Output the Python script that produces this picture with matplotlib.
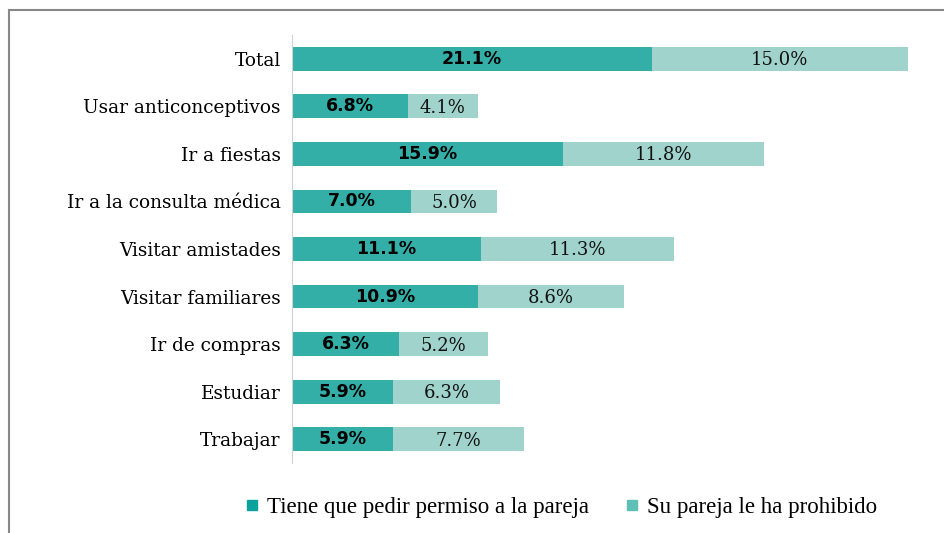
import matplotlib.pyplot as plt
from matplotlib.lines import Line2D

# categorias (de arriba hacia abajo)
categorias = ['Total', 'Usar anticonceptivos', 'Ir a fiestas', 'Ir a la consulta médica',
              'Visitar amistades', 'Visitar familiares', 'Ir de compras', 'Estudiar', 'Trabajar']
permiso = [21.1, 6.8, 15.9, 7.0, 11.1, 10.9, 6.3, 5.9, 5.9]
prohibido = [15.0, 4.1, 11.8, 5.0, 11.3, 8.6, 5.2, 6.3, 7.7]
series = ['Tiene que pedir permiso a la pareja', 'Su pareja le ha prohibido']

c_osc = '#33afa8'
c_cla = '#9fd3cc'

fig = plt.figure(figsize=(9.44, 5.33), dpi=100)
ax = fig.add_axes([0.3093, 0.1313, 0.69, 0.803])

y = list(range(len(categorias)))
ax.barh(y, permiso, height=0.5, color=c_osc)
ax.barh(y, prohibido, left=permiso, height=0.5, color=c_cla)

for i in y:
    a, b = permiso[i], prohibido[i]
    ax.text(a / 2, i, f'{a:.1f}%', ha='center', va='center', fontsize=12.5,
            fontweight='bold', family='DejaVu Sans', color='black')
    ax.text(a + b / 2, i + 0.03, f'{b:.1f}%', ha='center', va='center', fontsize=13,
            family='DejaVu Serif', color='#111111')

ax.set_ylim(len(categorias) - 0.5, -0.5)
ax.set_xlim(0, 38.2)
ax.set_yticks(y)
ax.set_yticklabels(categorias, family='DejaVu Serif', fontsize=13.3)
ax.tick_params(axis='y', length=0, pad=8)
ax.set_xticks([])
for s in ['top', 'right', 'bottom']:
    ax.spines[s].set_visible(False)
ax.spines['left'].set_color('#d0d0d0')

# leyenda
h = [Line2D([], [], marker='s', linestyle='', color='#0aa39b', markersize=6.5),
     Line2D([], [], marker='s', linestyle='', color='#5ebfb6', markersize=6.5)]
fig.legend(h, series, loc='center', bbox_to_anchor=(0.591, 0.047), ncol=2, frameon=False,
           prop={'family': 'Liberation Serif', 'size': 16.5}, handletextpad=0.05,
           columnspacing=1.3, handlelength=1.2)

# borde
fig.add_artist(Line2D([8.5 / 944, 8.5 / 944], [0, 1 - 9.5 / 533], color='#888888', lw=1.5))
fig.add_artist(Line2D([8.5 / 944, 1], [1 - 9.5 / 533, 1 - 9.5 / 533], color='#888888', lw=1.5))

fig.savefig('out.png', dpi=100)
